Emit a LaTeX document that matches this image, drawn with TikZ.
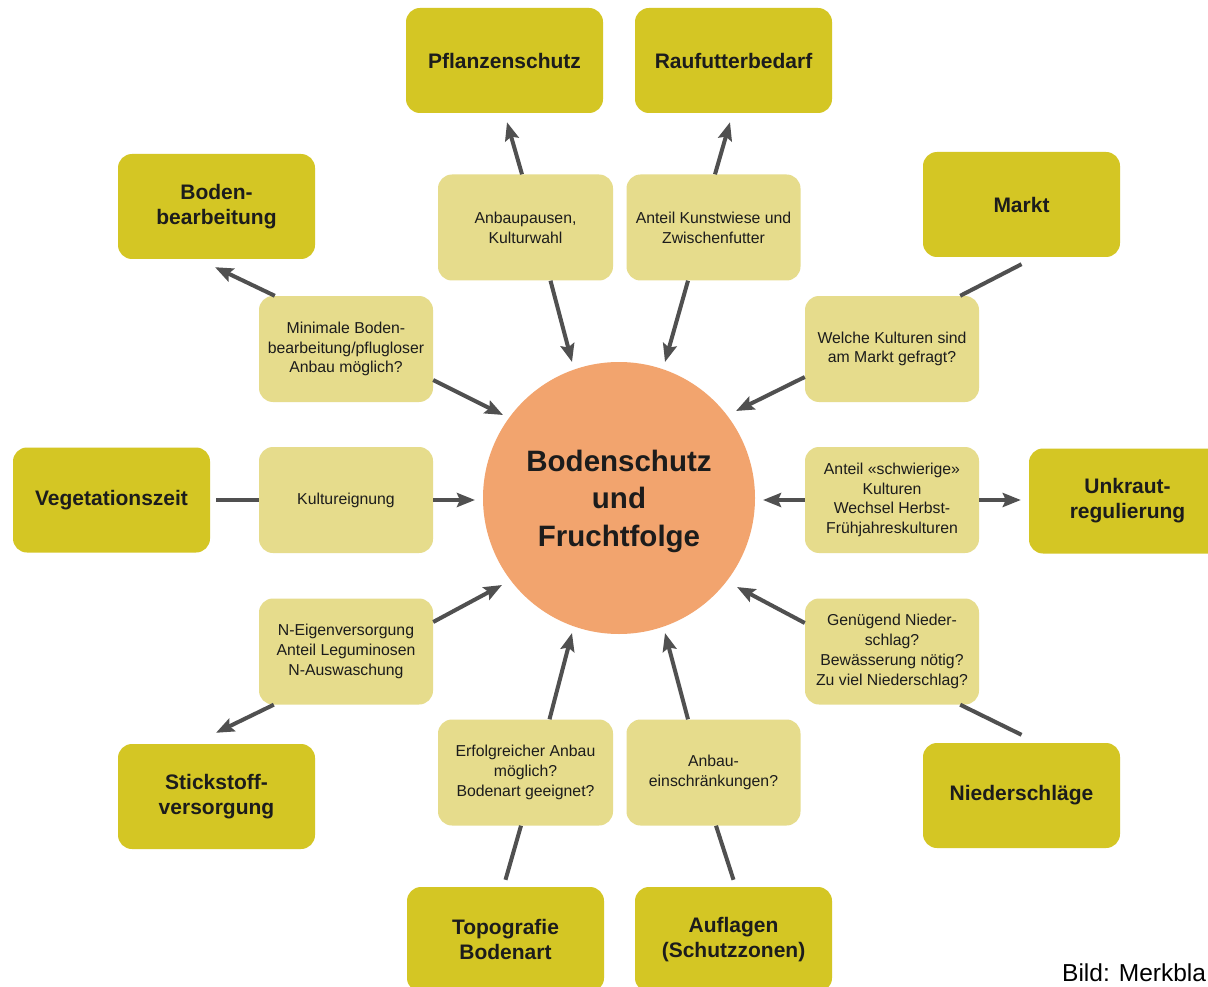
\documentclass[tikz,border=0pt]{standalone}
\usepackage{fontspec}
\setmainfont{Liberation Sans}
\usetikzlibrary{calc,arrows.meta}
\definecolor{outerc}{RGB}{212,198,36}
\definecolor{innerc}{RGB}{230,220,140}
\definecolor{circc}{RGB}{242,164,110}
\definecolor{linec}{RGB}{80,80,80}
\definecolor{txtc}{RGB}{28,28,28}
\tikzset{
 outerbox/.style={fill=outerc, rounded corners=14pt, minimum width=197pt, minimum height=105pt, inner sep=0pt, align=center, font=\fontsize{21}{25}\selectfont\bfseries, text=txtc},
 innerbox/.style={fill=innerc, rounded corners=14pt, minimum width=174pt, minimum height=106pt, inner sep=0pt, align=center, font=\fontsize{15.8}{19.8}\selectfont, text=txtc},
 hub/.style={circle, fill=circc, minimum size=272pt, inner sep=0pt},
 hubtext/.style={inner sep=0pt, align=center, font=\fontsize{29.5}{37.5}\selectfont\bfseries, text=txtc},
 arr/.style={draw=linec, line width=4pt, -{Stealth[length=18pt,width=14pt,inset=3pt]}},
 link/.style={draw=linec, line width=4pt},
}
\begin{document}
\begin{tikzpicture}[x=1pt,y=-1pt]
\useasboundingbox (0,0) rectangle (1208,987);
\fill[white] (0,0) rectangle (1208,987);

% hub
\node[hub] (circ) at (619,498) {};
\node[hubtext] (circt) at ($(circ.center)+(0,3)$) {Bodenschutz\\und\\Fruchtfolge};

% outer boxes
\node[outerbox] (pfl) at (504.5,60.5) {Pflanzenschutz};
\node[outerbox] (rau) at (733.5,60.5) {Raufutterbedarf};
\node[outerbox] (bod) at (216.5,206.5) {Boden-\\bearbeitung};
\node[outerbox] (mar) at (1021.5,204.5) {Markt};
\node[outerbox] (veg) at (111.5,500) {Vegetationszeit};
\node[outerbox] (unk) at (1127.5,501) {Unkraut-\\regulierung};
\node[outerbox] (sti) at (216.5,796.5) {Stickstoff-\\versorgung};
\node[outerbox] (nie) at (1021.5,795.5) {Niederschläge};
\node[outerbox] (top) at (505.5,939.5) {Topografie\\Bodenart};
\node[outerbox] (auf) at (733.5,939.5) {Auflagen\\(Schutzzonen)};

% inner boxes
\node[innerbox, minimum width=175pt] (anb) at (525.5,227.5) {Anbaupausen,\\Kulturwahl};
\node[innerbox] (kun) at (713.5,227.5) {Anteil Kunstwiese und\\Zwischenfutter};
\node[innerbox] (min) at (346,349) {Minimale Boden-\\bearbeitung/pflugloser\\Anbau möglich?};
\node[innerbox] (wel) at (892,349) {Welche Kulturen sind\\am Markt gefragt?};
\node[innerbox] (kul) at (346,500) {Kultureignung};
\node[innerbox] (sch) at (892,500) {Anteil «schwierige»\\Kulturen\\Wechsel Herbst-\\Frühjahreskulturen};
\node[innerbox] (nei) at (346,651.5) {N-Eigenversorgung\\Anteil Leguminosen\\N-Auswaschung};
\node[innerbox] (gen) at (892,651.5) {Genügend Nieder-\\schlag?\\Bewässerung nötig?\\Zu viel Niederschlag?};
\node[innerbox, minimum width=175pt] (erf) at (525.5,772.5) {Erfolgreicher Anbau\\möglich?\\Bodenart geeignet?};
\node[innerbox] (ein) at (713.5,772.5) {Anbau-\\einschränkungen?};

% connectors
\draw[arr] ($(anb.north)+(-3.5,0)$) -- ($(pfl.south)+(2.5,9)$);
\draw[arr] ($(anb.south)+(25,0)$) -- ($(circ.center)+(-47,-136)$);
\draw[arr] ($(kun.north)+(1.5,0)$) -- ($(rau.south)+(-3.5,9)$);
\draw[arr] ($(kun.south)+(-25.5,0)$) -- ($(circ.center)+(46,-136)$);
\draw[arr] ($(min.north west)+(16,0)$) -- ($(bod.south)+(-1.5,8)$);
\draw[arr] ($(min.east)+(0,31)$) -- ($(circ.center)+(-116,-83)$);
\draw[link] ($(mar.south)+(0,7)$) -- ($(wel.north east)+(-19,0)$);
\draw[arr] ($(wel.west)+(0,28)$) -- ($(circ.center)+(117,-87)$);
\draw[link] ($(veg.east)+(6,0)$) -- (kul.west);
\draw[arr] (kul.east) -- ($(circ.center)+(-144,2)$);
\draw[arr] (sch.west) -- ($(circ.center)+(144,2)$);
\draw[arr] (sch.east) -- ($(unk.west)+(-8,-1)$);
\draw[arr] ($(nei.east)+(0,-29.5)$) -- ($(circ.center)+(-117,87)$);
\draw[arr] ($(nei.south west)+(15,0)$) -- ($(sti.north)+(-0.5,-11)$);
\draw[arr] ($(gen.west)+(0,-28.5)$) -- ($(circ.center)+(118,89)$);
\draw[link] ($(nie.north)+(0,-8)$) -- ($(gen.south east)+(-19,0)$);
\draw[arr] ($(erf.north)+(24,0)$) -- ($(circ.center)+(-47,135)$);
\draw[link] ($(top.north)+(0,-7)$) -- ($(erf.south)+(-4.5,0)$);
\draw[arr] ($(ein.north)+(-25.5,0)$) -- ($(circ.center)+(46,135)$);
\draw[link] ($(auf.north)+(0,-7)$) -- ($(ein.south)+(2.5,0)$);

% credit
\node[anchor=base west, inner sep=0pt, font=\fontsize{24.5}{28}\selectfont, text=black] (bild) at (1062,981) {Bild: Merkbla};
\end{tikzpicture}
\end{document}
